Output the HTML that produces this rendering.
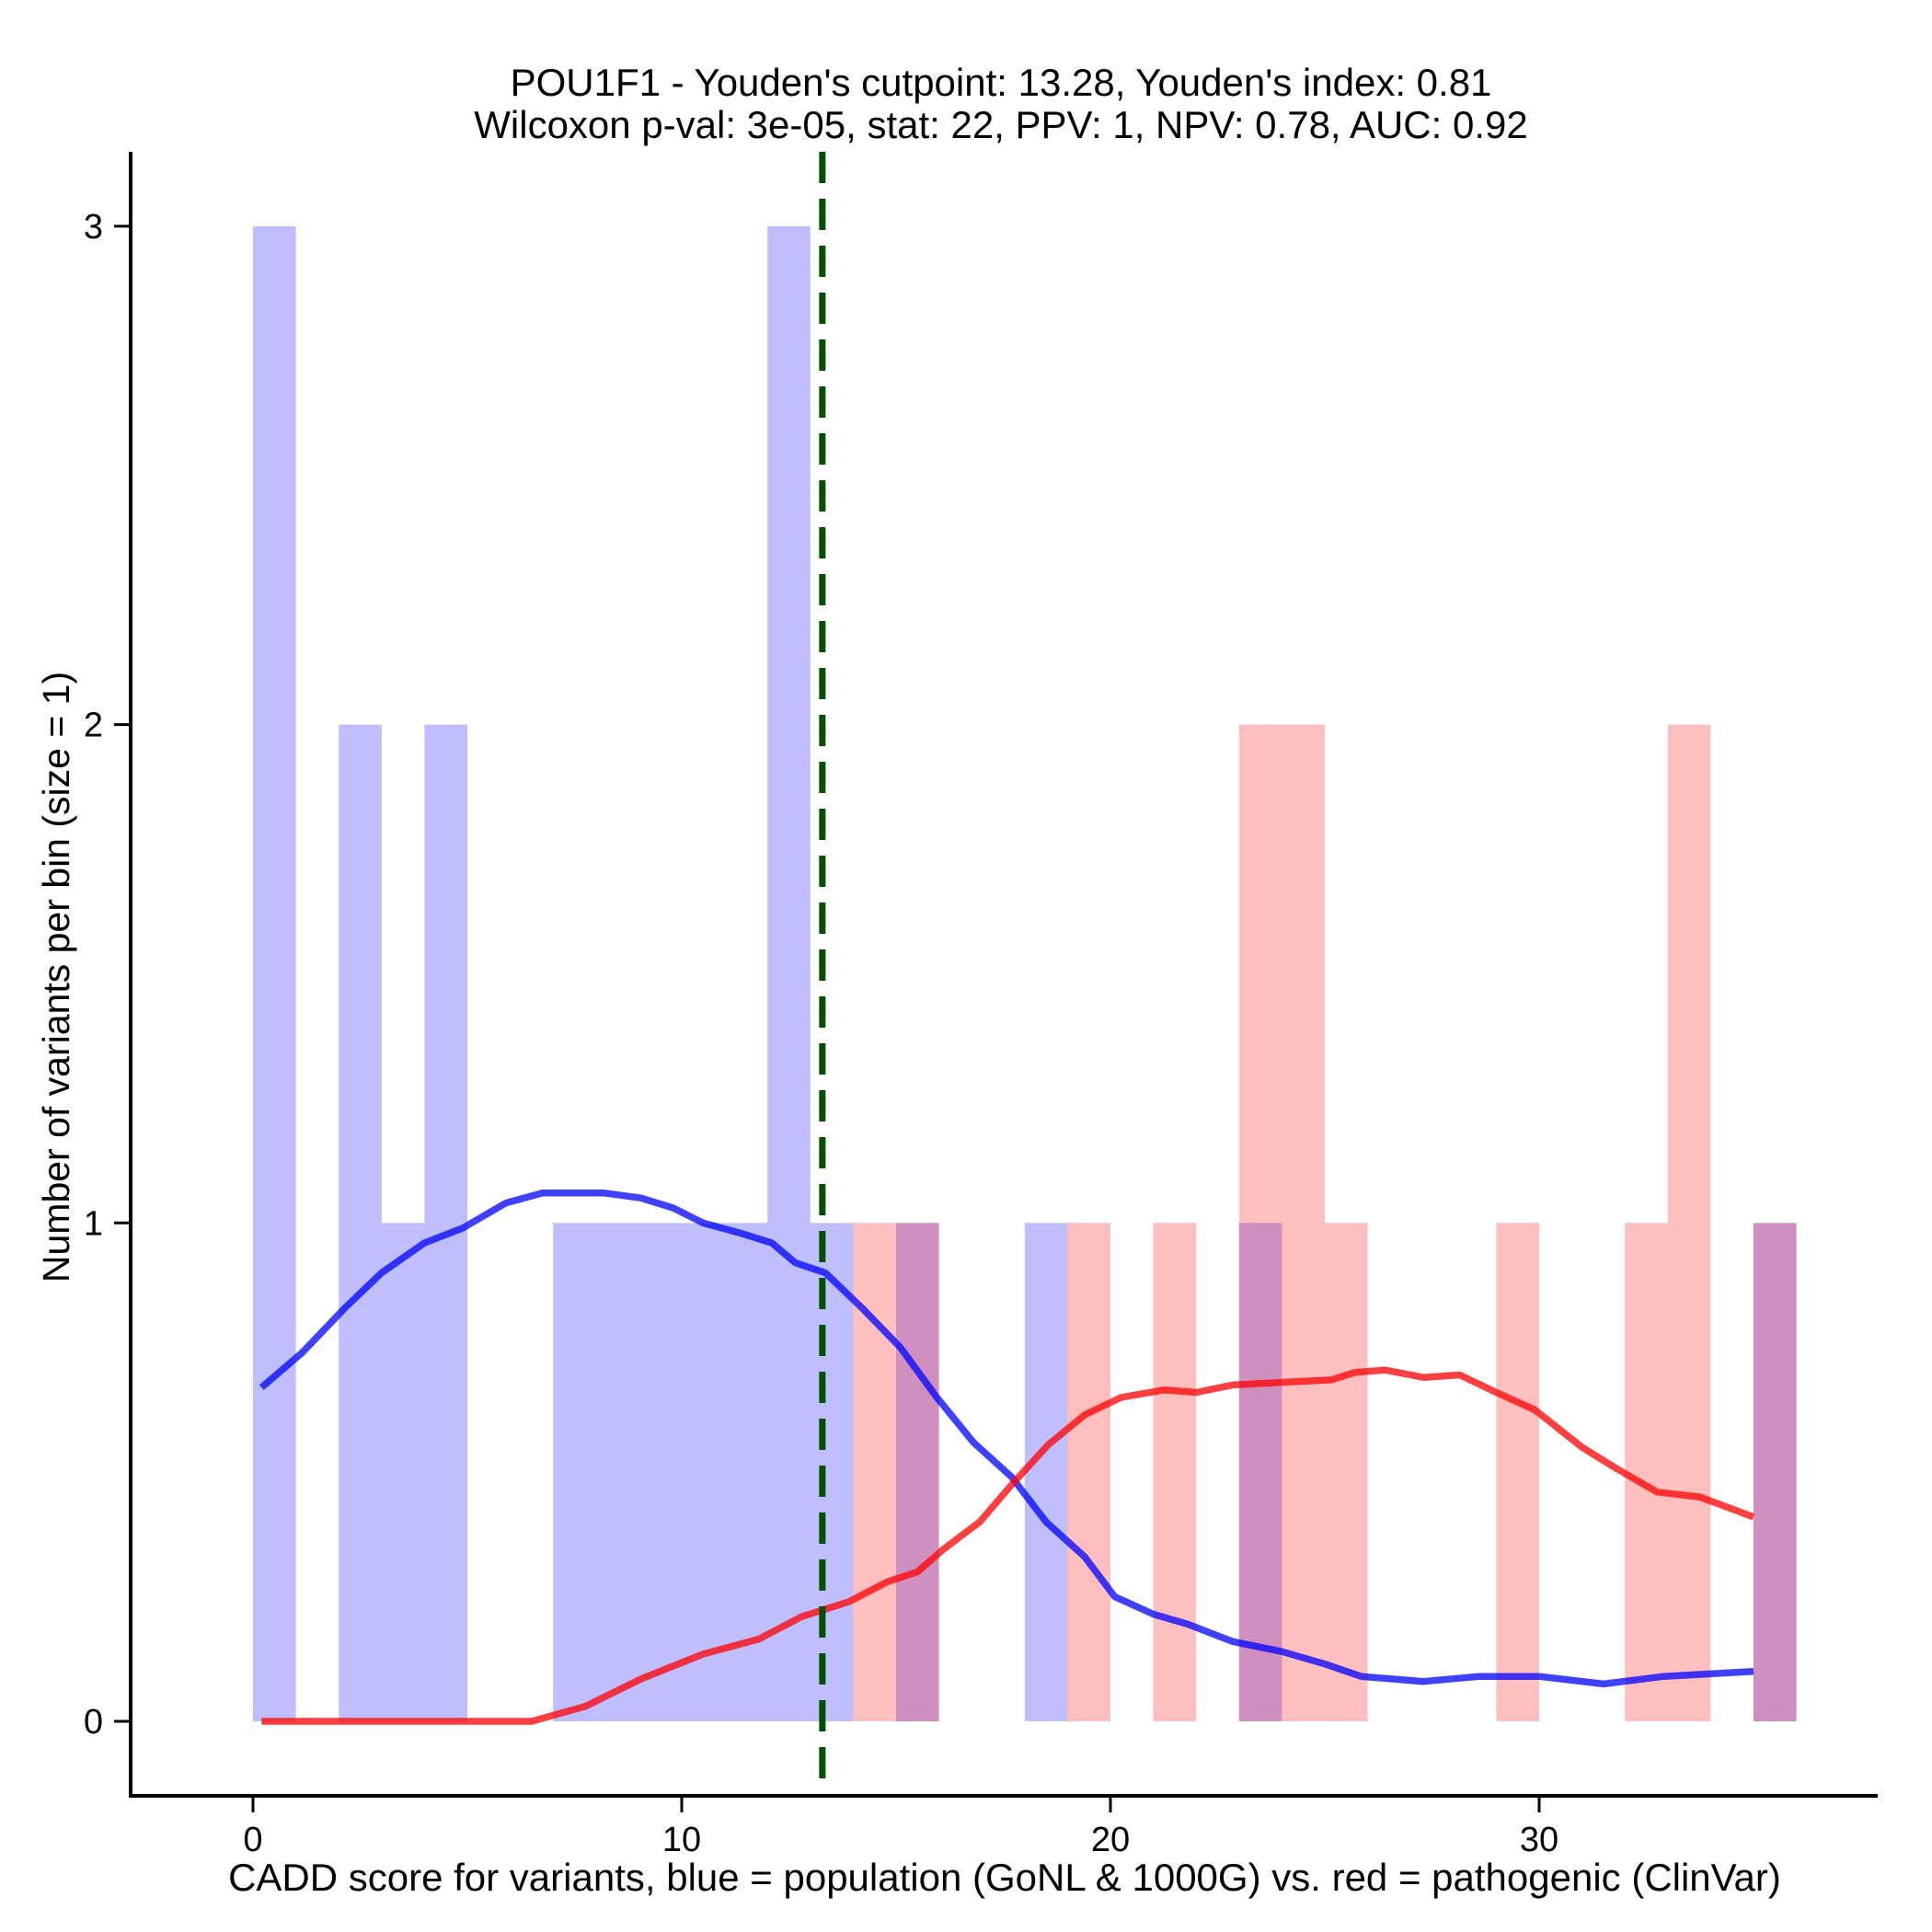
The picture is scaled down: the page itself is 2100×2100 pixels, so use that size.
<!DOCTYPE html>
<html><head><meta charset="utf-8"><style>
html,body{margin:0;padding:0;background:#fff}
svg{display:block;font-family:"Liberation Sans",Arial,sans-serif}
</style></head><body>
<svg id="chart" width="2100" height="2100" viewBox="0 0 2100 2100">
<text x="1088" y="104" font-size="42" text-anchor="middle">POU1F1 - Youden's cutpoint: 13.28, Youden's index: 0.81</text>
<text x="1088" y="150" font-size="42" text-anchor="middle">Wilcoxon p-val: 3e-05, stat: 22, PPV: 1, NPV: 0.78, AUC: 0.92</text>
<g id="bars"></g>
<g id="curves"></g>
<g id="axes"></g>
<text x="1092" y="2055" font-size="42" text-anchor="middle">CADD score for variants, blue = population (GoNL &amp; 1000G) vs. red = pathogenic (ClinVar)</text>
<text x="0" y="0" font-size="41" text-anchor="middle" transform="translate(75,1062) rotate(-90)">Number of variants per bin (size = 1)</text>
</svg>
<script>
const blueBins = [0,2,3,4,7,8,9,10,11,12,13,15,18,23,35];
const blueCounts = [3,2,1,2,1,1,1,1,1,3,1,1,1,1,1];
const redBins = [14,15,19,21,23,24,25,29,32,33,35];
const redCounts = [1,1,1,1,2,2,1,1,1,2,1];
const blueCurveX = [0.2,1.15,2.15,3.0,4.0,4.9,5.9,6.75,7.5,8.2,9.05,9.8,10.5,11.35,12.1,12.65,13.35,14.2,15.1,15.95,16.8,17.7,18.5,19.4,20.1,21.0,21.8,22.85,24.0,25.0,25.85,27.3,28.6,30.0,31.5,32.9,35.0];
const blueCurveY = [0.67,0.74,0.83,0.90,0.96,0.99,1.04,1.06,1.06,1.06,1.05,1.03,1.00,0.98,0.96,0.92,0.90,0.83,0.75,0.65,0.56,0.49,0.40,0.33,0.25,0.215,0.195,0.16,0.14,0.115,0.09,0.08,0.09,0.09,0.075,0.09,0.10];
const redCurveX = [0.2,6.5,7.75,9.05,10.5,11.8,12.8,13.9,14.8,15.5,16.1,16.95,17.7,18.55,19.4,20.25,21.25,22.0,22.85,24.0,25.15,25.7,26.4,27.3,28.15,29.0,29.9,31.0,31.75,32.75,33.75,35.0];
const redCurveY = [0,0,0.03,0.085,0.135,0.165,0.21,0.24,0.28,0.30,0.345,0.40,0.475,0.555,0.615,0.65,0.665,0.66,0.675,0.68,0.685,0.70,0.705,0.69,0.695,0.66,0.625,0.55,0.51,0.46,0.45,0.41];
const xTicks = [0,10,20,30];
const yTicks = [0,1,2,3];
const cutpoint = 13.28;

const NS = "http://www.w3.org/2000/svg";
const X = v => 275 + v * 46.6;
const Y = v => 1871 - v * 541.7;
function mk(tag, attrs, parent){const e=document.createElementNS(NS,tag);for(const k in attrs)e.setAttribute(k,attrs[k]);parent.appendChild(e);return e;}
const bars = document.getElementById('bars');
blueBins.forEach((b,i)=>{
  const r = mk('rect',{x:X(b),y:Y(blueCounts[i]),width:X(b+1)-X(b),height:Y(0)-Y(blueCounts[i]),fill:'rgba(0,0,255,0.25)'},bars);
  
  
});
redBins.forEach((b,i)=>{
  const r = mk('rect',{x:X(b),y:Y(redCounts[i]),width:X(b+1)-X(b),height:Y(0)-Y(redCounts[i]),fill:'rgba(255,0,0,0.25)'},bars);
  
  
});
const curves = document.getElementById('curves');
function line(xs,ys,color,name){
  const d = xs.map((x,i)=>(i?'L':'M')+X(x).toFixed(1)+','+Y(ys[i]).toFixed(1)).join(' ');
  const p = mk('path',{d:d,fill:'none',stroke:color,'stroke-width':7.5,'stroke-linejoin':'round'},curves);
  
  
}
line(blueCurveX,blueCurveY,'rgba(0,0,255,0.75)','population-density-curve');
line(redCurveX,redCurveY,'rgba(255,0,0,0.75)','pathogenic-density-curve');
const cut = mk('line',{x1:X(cutpoint),x2:X(cutpoint),y1:165,y2:1952,stroke:'#005000','stroke-width':7,'stroke-dasharray':'34 17'},curves);


const axes = document.getElementById('axes');
const ya = mk('line',{x1:142,x2:142,y1:165,y2:1953.5,stroke:'#000','stroke-width':4},axes);


const xa = mk('line',{x1:140,x2:2041,y1:1952,y2:1952,stroke:'#000','stroke-width':4},axes);


xTicks.forEach(t=>{
  const tk = mk('line',{x1:X(t),x2:X(t),y1:1952,y2:1970,stroke:'#000','stroke-width':3},axes);
  
  
  const tl = mk('text',{x:X(t),y:2012,'font-size':38,'text-anchor':'middle'},axes);
  tl.textContent = t;
  
  
});
yTicks.forEach(t=>{
  const tk = mk('line',{x1:124,x2:142,y1:Y(t),y2:Y(t),stroke:'#000','stroke-width':3},axes);
  
  
  const tl = mk('text',{x:112,y:Y(t)+13,'font-size':38,'text-anchor':'end'},axes);
  tl.textContent = t;
  
  
});
</script>
</body></html>
